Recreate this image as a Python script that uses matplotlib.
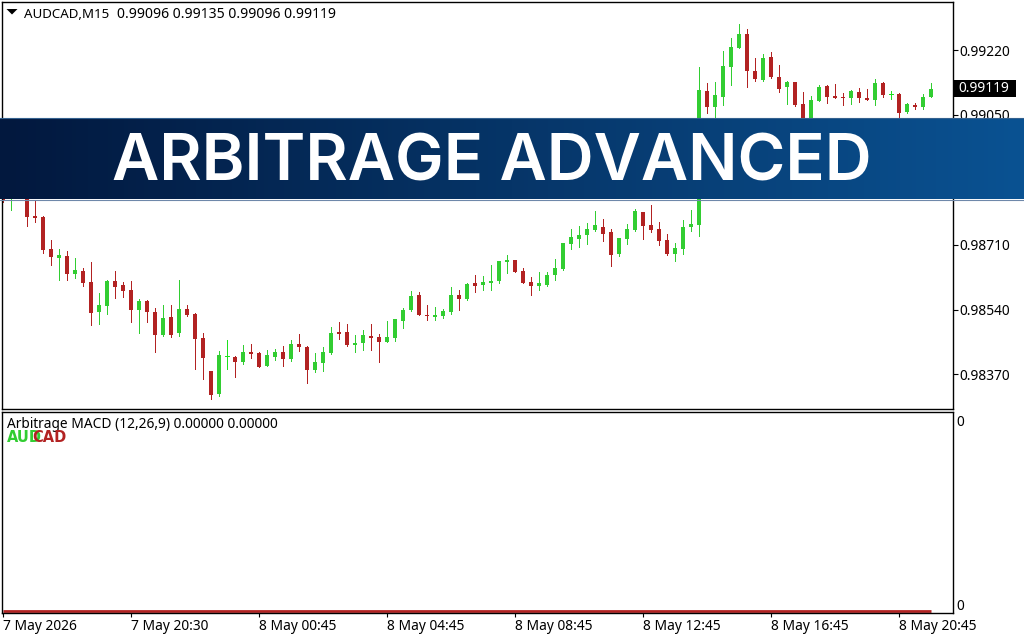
import numpy as np
import matplotlib
matplotlib.use("Agg")
import matplotlib.pyplot as plt

plt.rcParams["font.family"] = ["Noto Sans", "DejaVu Sans"]

# AUDCAD M15, prices (in 1e-5 units)
highs = [98879, 98866, 98858, 98866, 98824, 98785, 98722, 98699, 98693, 98675,
         98649, 98665, 98583, 98617, 98641, 98612, 98615, 98568, 98565, 98544,
         98552, 98552, 98617, 98552, 98531, 98479, 98379, 98431, 98460, 98418,
         98447, 98450, 98429, 98434, 98437, 98444, 98460, 98476, 98444, 98426,
         98442, 98494, 98507, 98502, 98473, 98486, 98502, 98476, 98510, 98515,
         98544, 98589, 98586, 98552, 98547, 98541, 98599, 98591, 98610, 98630,
         98628, 98657, 98667, 98683, 98670, 98649, 98625, 98638, 98638, 98672,
         98714, 98751, 98759, 98767, 98798, 98777, 98751, 98727, 98764, 98803,
         98796, 98814, 98769, 98738, 98714, 98775, 98801, 99175, 99134, 99136,
         99217, 99251, 99288, 99275, 99199, 99210, 99215, 99181, 99139, 99136,
         99110, 99099, 99128, 99128, 99131, 99107, 99115, 99120, 99118, 99144,
         99136, 99113, 99107, 99081, 99081, 99105, 99135]
opens = [98866, 98832, 98848, 98853, 98785, 98782, 98699, 98675, 98680, 98633,
         98641, 98612, 98534, 98549, 98615, 98604, 98591, 98539, 98562, 98534,
         98473, 98520, 98479, 98541, 98528, 98465, 98379, 98319, 98418, 98416,
         98403, 98429, 98426, 98392, 98416, 98429, 98410, 98450, 98442, 98382,
         98400, 98426, 98481, 98481, 98447, 98452, 98471, 98468, 98455, 98465,
         98510, 98539, 98578, 98526, 98520, 98523, 98534, 98578, 98568, 98610,
         98604, 98610, 98615, 98665, 98670, 98641, 98612, 98602, 98604, 98630,
         98646, 98712, 98725, 98735, 98749, 98756, 98743, 98686, 98725, 98749,
         98796, 98762, 98751, 98722, 98686, 98699, 98756, 98762, 99113, 99071,
         99097, 99175, 99225, 99262, 99165, 99141, 99202, 99149, 99123, 99136,
         99079, 99031, 99086, 99126, 99099, 99097, 99094, 99110, 99094, 99089,
         99134, 99105, 99105, 99058, 99076, 99071, 99096]
lows = [98822, 98801, 98832, 98759, 98769, 98688, 98657, 98617, 98617, 98623,
        98602, 98500, 98502, 98528, 98570, 98573, 98507, 98479, 98507, 98429,
        98471, 98468, 98471, 98523, 98384, 98358, 98306, 98313, 98384, 98363,
        98397, 98413, 98389, 98392, 98408, 98392, 98405, 98431, 98348, 98376,
        98379, 98424, 98463, 98444, 98429, 98434, 98434, 98403, 98455, 98458,
        98492, 98536, 98526, 98513, 98513, 98518, 98528, 98539, 98565, 98586,
        98591, 98591, 98610, 98636, 98638, 98610, 98578, 98591, 98602, 98617,
        98644, 98699, 98704, 98712, 98746, 98720, 98654, 98680, 98712, 98746,
        98725, 98743, 98709, 98683, 98667, 98686, 98746, 98733, 99055, 99023,
        99076, 99128, 99225, 99123, 99139, 99139, 99147, 99110, 99079, 99073,
        99016, 99023, 99086, 99081, 99094, 99076, 99079, 99084, 99089, 99076,
        99097, 99092, 99044, 99055, 99065, 99065, 99096]
closes = [98824, 98853, 98837, 98782, 98780, 98696, 98678, 98683, 98633, 98644,
          98610, 98531, 98552, 98615, 98599, 98589, 98539, 98562, 98534, 98473,
          98518, 98473, 98541, 98526, 98463, 98413, 98316, 98421, 98418, 98403,
          98429, 98424, 98389, 98421, 98429, 98410, 98450, 98442, 98382, 98403,
          98429, 98479, 98476, 98447, 98452, 98473, 98465, 98455, 98468, 98515,
          98539, 98576, 98526, 98523, 98526, 98536, 98578, 98568, 98607, 98602,
          98612, 98615, 98667, 98670, 98638, 98610, 98602, 98610, 98630, 98649,
          98714, 98730, 98735, 98751, 98762, 98738, 98683, 98727, 98751, 98798,
          98759, 98749, 98720, 98686, 98701, 98756, 98764, 99115, 99071, 99102,
          99178, 99228, 99262, 99165, 99144, 99199, 99149, 99118, 99136, 99076,
          99031, 99089, 99123, 99097, 99094, 99094, 99113, 99094, 99089, 99134,
          99102, 99105, 99055, 99079, 99071, 99097, 99119]

price_ticks = [0.98370, 0.98540, 0.98710, 0.98880, 0.99050, 0.99220]
date_ticks = [0, 16, 32, 48, 64, 80, 96, 112]
date_labels = ["7 May 2026", "7 May 20:30", "8 May 00:45", "8 May 04:45",
               "8 May 08:45", "8 May 12:45", "8 May 16:45", "8 May 20:45"]
macd_main = [0.0] * 117
last_price = 0.99119

W, H = 1024, 640
GREEN = "#32cd32"
RED = "#b22222"
DOJI = "#1fe01f"
FS = 9.9


def fx(x):
    return x / W


def fy(y):
    return 1 - y / H


def panel(left, top, right, bottom):
    return fig.add_axes([fx(left), fy(bottom), fx(right - left), (bottom - top) / H])


o = np.array(opens) / 1e5
h = np.array(highs) / 1e5
l = np.array(lows) / 1e5
c = np.array(closes) / 1e5
idx = np.arange(len(o))
up = c > o
down = c < o
flat = c == o

fig = plt.figure(figsize=(W / 100, H / 100), dpi=100)

# price panel
ax1 = panel(2, 2, 952.5, 409)
ax1.set_xlim(-0.125, 118.69)
ax1.set_ylim(0.982794, 0.99346)
ax1.vlines(idx[up], l[up], h[up], color=GREEN, lw=0.72, antialiased=False)
ax1.vlines(idx[down], l[down], h[down], color=RED, lw=0.72, antialiased=False)
ax1.vlines(idx[flat], l[flat], h[flat], color=DOJI, lw=0.72, antialiased=False)
ax1.bar(idx[up], (c - o)[up], bottom=o[up], width=0.6, color=GREEN, lw=0, antialiased=False)
ax1.bar(idx[down], (c - o)[down], bottom=o[down], width=0.6, color=RED, lw=0, antialiased=False)
ax1.hlines(c[flat], idx[flat] - 0.3, idx[flat] + 0.3, color=DOJI, lw=0.72, antialiased=False)
ax1.yaxis.tick_right()
ax1.set_yticks(price_ticks)
ax1.set_yticklabels(["%.5f" % p for p in price_ticks], fontsize=FS, color="black")
ax1.set_xticks([])
ax1.tick_params(axis="y", length=3.5, width=0.8, pad=1.5)

# indicator panel
ax2 = panel(2, 411.5, 952.5, 613)
ax2.set_xlim(-0.125, 118.69)
ax2.set_ylim(-0.008, 1)
ax2.plot(idx, macd_main, color=RED, lw=2, solid_capstyle="butt")
ax2.yaxis.tick_right()
ax2.set_yticks([])
ax2.set_xticks(date_ticks)
ax2.set_xticklabels(date_labels, fontsize=FS, ha="left")
ax2.tick_params(axis="x", length=3, width=0.8, pad=1.5)

for ax in (ax1, ax2):
    for s in ax.spines.values():
        s.set_linewidth(1.0)

# header texts
fig.text(fx(24), fy(14), "AUDCAD,M15", fontsize=9.6, va="center")
fig.text(fx(117), fy(14), "0.99096 0.99135 0.99096 0.99119", fontsize=10.1, va="center")
tri = plt.Polygon([[fx(6.5), fy(9)], [fx(17.5), fy(9)], [fx(12), fy(14.5)]],
                  transform=fig.transFigure, color="black", lw=0)
fig.add_artist(tri)
fig.text(fx(7), fy(425), "Arbitrage MACD (12,26,9) 0.00000 0.00000", fontsize=FS, va="center")
fig.text(fx(7), fy(438), "AUD", fontsize=10.5, fontfamily="DejaVu Sans", fontweight="bold",
         color=GREEN, va="center")
fig.text(fx(32), fy(438), "CAD", fontsize=10.5, fontfamily="DejaVu Sans", fontweight="bold",
         color=RED, va="center")
fig.text(fx(956), fy(423), "0", fontsize=FS, va="center")
fig.text(fx(956), fy(606), "0", fontsize=FS, va="center")

# current price box
box = plt.Rectangle((fx(954), fy(97)), 62 / W, 17 / H, transform=fig.transFigure,
                    color="black", lw=0, zorder=5)
fig.add_artist(box)
fig.text(fx(958), fy(88.5), "%.5f" % last_price, fontsize=FS, color="white", va="center", zorder=6)

# banner
ban = fig.add_axes([0, fy(199), 1, 81 / H], zorder=10)
grad = np.linspace(0, 1, 256)[None, :, None]
c0 = np.array([2, 24, 62]) / 255
c1 = np.array([10, 82, 146]) / 255
ban.imshow(c0 + (c1 - c0) * grad, aspect="auto", extent=[0, 1, 0, 1])
ban.axis("off")
ban.text(0.48, 0.44, "ARBITRAGE ADVANCED", color="white", fontsize=46.8,
         fontfamily="Inter", fontweight="semibold", ha="center", va="center",
         transform=ban.transAxes)
fig.add_artist(plt.Line2D([0, 1], [fy(199.5)] * 2, color="#6f88aa", lw=0.8, zorder=11))
fig.add_artist(plt.Line2D([0, 1], [fy(118)] * 2, color="#34618f", lw=0.8, zorder=11))

fig.savefig("out.png", dpi=100)
